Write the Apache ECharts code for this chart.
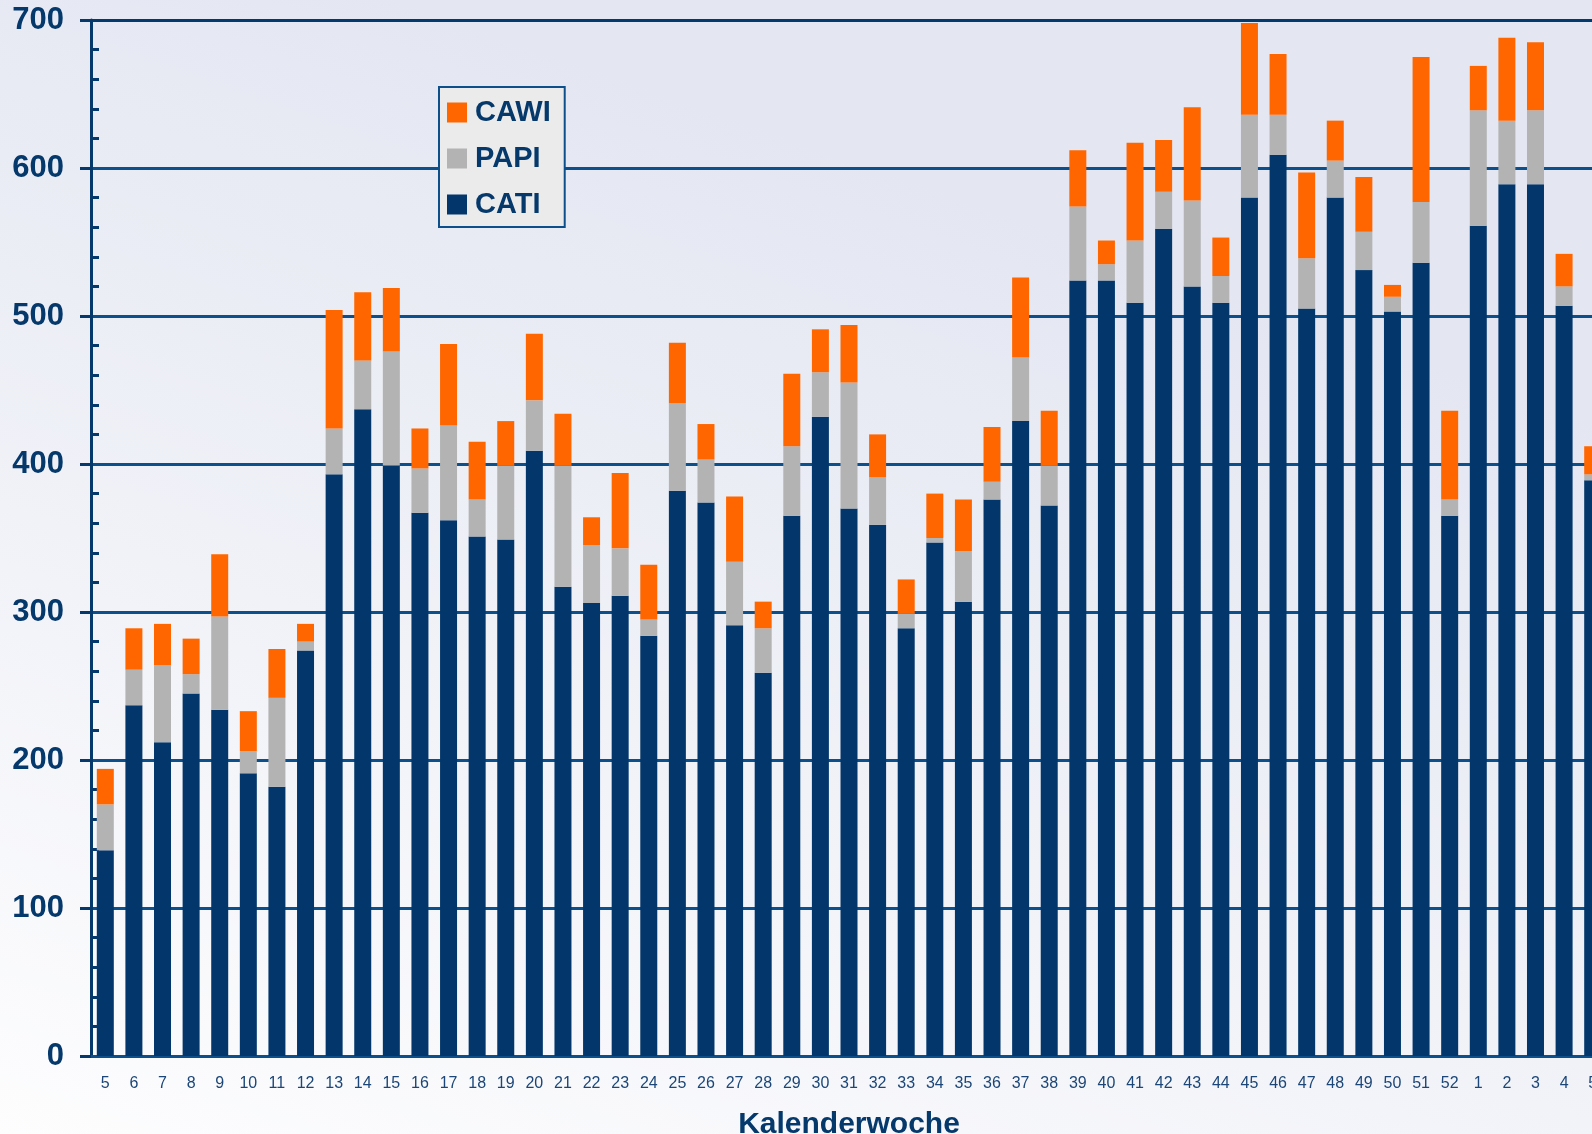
<!DOCTYPE html>
<html>
<head>
<meta charset="utf-8">
<title>Kalenderwoche</title>
<script src="https://cdn.jsdelivr.net/npm/echarts@6/dist/echarts.min.js"></script>
<style>
  html, body { margin: 0; padding: 0; }
  #chart { width: 1592px; height: 1134px; }
</style>
</head>
<body>
<div id="chart"></div>
<script>
// Kalenderwochen 5..52, dann 1..5 des Folgejahres
const weeks = ['5', '6', '7', '8', '9', '10', '11', '12', '13', '14', '15', '16', '17', '18', '19', '20',
    '21', '22', '23', '24', '25', '26', '27', '28', '29', '30', '31', '32', '33', '34', '35', '36',
    '37', '38', '39', '40', '41', '42', '43', '44', '45', '46', '47', '48', '49', '50', '51', '52',
    '1', '2', '3', '4', '5']

const cati = [139, 237, 212, 245, 234, 191, 182, 274, 393, 437, 399, 367, 362, 351, 349, 409,
    317, 306, 311, 284, 382, 374, 291, 259, 365, 432, 370, 359, 289, 347, 307, 376,
    429, 372, 524, 524, 509, 559, 520, 509, 580, 609, 505, 580, 531, 503, 536, 365,
    561, 589, 589, 507, 389]

const papi = [31, 24, 52, 13, 63, 15, 60, 6, 31, 33, 77, 30, 64, 25, 50, 34,
    82, 39, 32, 11, 59, 29, 43, 30, 47, 30, 85, 32, 10, 3, 34, 12,
    43, 27, 50, 11, 42, 25, 58, 18, 56, 27, 34, 25, 26, 10, 41, 11,
    78, 43, 50, 13, 4]

const cawi = [24, 28, 28, 24, 42, 27, 33, 12, 80, 46, 43, 27, 55, 39, 30, 45,
    35, 19, 51, 37, 41, 24, 44, 18, 49, 29, 39, 29, 23, 30, 35, 37,
    54, 37, 38, 16, 66, 35, 63, 26, 62, 41, 58, 27, 37, 8, 98, 60,
    30, 56, 46, 22, 19]

const yTicks = [0, 100, 200, 300, 400, 500, 600, 700]

const navy = '#05386b'
const gridBlue = '#0d4f8b'

const chart = echarts.init(document.getElementById('chart'))

function barSeries (name, data, color) {
    return {
        name: name,
        type: 'bar',
        stack: 'total',
        data: data,
        barWidth: 17,
        itemStyle: { color: color },
        emphasis: { disabled: true }
    }
}

chart.setOption({
    animation: false,
    backgroundColor: new echarts.graphic.LinearGradient(0.25, 0, 0, 1, [
        { offset: 0, color: '#e4e7f2' },
        { offset: 0.6, color: '#f3f4f9' },
        { offset: 1, color: '#fdfdfe' }
    ]),
    textStyle: { fontFamily: 'Liberation Sans, Arial, sans-serif' },
    grid: {
        left: 91,
        right: -15,
        top: 20,
        bottom: 78,
        outerBoundsMode: 'none'
    },
    legend: {
        data: ['CAWI', 'PAPI', 'CATI'],
        orient: 'vertical',
        left: 439,
        top: 87,
        icon: 'rect',
        itemWidth: 20,
        itemHeight: 20,
        itemGap: 17,
        padding: [11, 14, 8, 8],
        backgroundColor: '#ebebeb',
        borderColor: gridBlue,
        borderWidth: 2,
        textStyle: {
            color: navy,
            fontSize: 29,
            fontWeight: 'bold',
            padding: [0, 0, 0, 3]
        }
    },
    xAxis: {
        type: 'category',
        data: weeks,
        axisLine: { show: true, lineStyle: { color: gridBlue, width: 3 } },
        axisTick: { show: false },
        axisLabel: {
            interval: 0,
            color: '#1b4677',
            fontSize: 16,
            margin: 20,
            hideOverlap: false
        },
        name: 'Kalenderwoche',
        nameLocation: 'middle',
        nameGap: 54,
        nameTextStyle: {
            color: navy,
            fontSize: 30,
            fontWeight: 'bold'
        }
    },
    yAxis: [
        {
            type: 'value',
            position: 'left',
            min: yTicks[0],
            max: yTicks[yTicks.length - 1],
            interval: 100,
            axisLine: { show: true, lineStyle: { color: navy, width: 3 } },
            axisTick: { show: true, length: 11, lineStyle: { color: navy, width: 3 } },
            axisLabel: {
                color: navy,
                fontSize: 31,
                fontWeight: 'bold',
                margin: 27
            },
            splitLine: {
                show: true,
                lineStyle: {
                    width: 3,
                    color: yTicks.map(v => v === 700 ? '#033a6e' : gridBlue)
                }
            }
        },
        {
            // nur die kleinen Striche innen an der Achse
            type: 'value',
            position: 'left',
            min: yTicks[0],
            max: yTicks[yTicks.length - 1],
            interval: 100,
            axisLine: { show: false },
            axisTick: { show: false, inside: true },
            axisLabel: { show: false },
            splitLine: { show: false },
            minorTick: {
                show: true,
                splitNumber: 5,
                length: 8,
                lineStyle: { color: navy, width: 3 }
            }
        }
    ],
    series: [
        barSeries('CATI', cati, '#03376c'),
        barSeries('PAPI', papi, '#b3b3b3'),
        barSeries('CAWI', cawi, '#ff6600')
    ]
})
</script>
</body>
</html>
